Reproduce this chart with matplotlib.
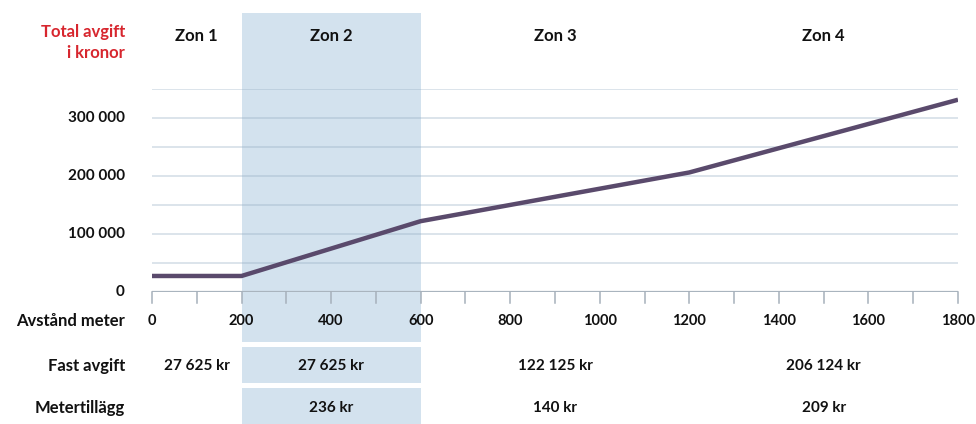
import matplotlib
matplotlib.use('Agg')
import matplotlib.pyplot as plt
import matplotlib.transforms as mtransforms
import numpy as np

plt.rcParams['font.family'] = ['Lato', 'DejaVu Sans']

# avgiftskurva (meter, kronor)
distance_m = [0, 200, 600, 1200, 1800]
total_fee = [27625, 27625, 122125, 206124, 331524]

zone_names = ['Zon 1', 'Zon 2', 'Zon 3', 'Zon 4']
zone_edges = [0, 200, 600, 1200, 1800]
fixed_fee = ['27 625 kr', '27 625 kr', '122 125 kr', '206 124 kr']
meter_fee = ['', '236 kr', '140 kr', '209 kr']

y_ticks = [0, 100000, 200000, 300000]
y_labels = ['0', '100 000', '200 000', '300 000']
x_ticks = [0, 200, 400, 600, 800, 1000, 1200, 1400, 1600, 1800]

W, H = 976, 424
fig = plt.figure(figsize=(W / 100, H / 100), dpi=100)

x0, x1 = 152, 958      # pixel for 0 and 1800 m
yb, yt = 292, 89       # pixel for 0 and 350 000 kr
ax = fig.add_axes([x0 / W, 1 - yb / H, (x1 - x0) / W, (yb - yt) / H])
ax.set_xlim(0, 1800)
ax.set_ylim(0, 350000)
ax.axis('off')

# x in data, y in figure pixels (from top)
tr = mtransforms.blended_transform_factory(ax.transData, fig.transFigure)
tr_y = mtransforms.blended_transform_factory(fig.transFigure, ax.transData)
def fy(px):
    return 1 - px / H

shade = '#d3e2ee'
for top, bot in [(13, 342), (347, 383), (388, 426)]:
    ax.fill_between([200, 600], fy(bot), fy(top), color=shade, lw=0,
                    transform=tr, clip_on=False, zorder=0)

# stödlinjer
for v in range(50000, 350001, 50000):
    ax.axhline(v, color='#8fa9bf', alpha=0.4, lw=1.1, zorder=1)
ax.axhline(0, color='#a9b4be', lw=1.6, zorder=1)

# skalstreck var 100 m
for t in range(0, 1801, 100):
    ax.plot([t, t], [fy(292), fy(303)], color='#a6b0ba', lw=1.1,
            transform=tr, clip_on=False, zorder=1)

ax.plot(distance_m, total_fee, color='#5a4a6c', lw=3.2,
        solid_capstyle='butt', zorder=3)

bold = dict(fontweight='bold', color='#111111')
lab_x = 125 / W
for v, s in zip(y_ticks, y_labels):
    ax.text(lab_x, v, s, ha='right', va='center', fontsize=11,
            transform=tr_y, **bold)
fig.text(lab_x, fy(32), 'Total avgift', ha='right', va='center',
         fontsize=12, fontweight='bold', color='#d7262e')
fig.text(lab_x, fy(53), 'i kronor', ha='right', va='center',
         fontsize=12, fontweight='bold', color='#d7262e')

fig.text(lab_x, fy(321), 'Avstånd meter', ha='right', va='center', fontsize=12, **bold)
fig.text(lab_x, fy(366), 'Fast avgift', ha='right', va='center', fontsize=12, **bold)
fig.text(lab_x, fy(408), 'Metertillägg', ha='right', va='center', fontsize=12, **bold)

for t in x_ticks:
    ax.text(t, fy(321), str(t), ha='center', va='center', fontsize=10.5,
            transform=tr, **bold)

for i, name in enumerate(zone_names):
    mid = (zone_edges[i] + zone_edges[i + 1]) / 2
    ax.text(mid, fy(36), name, ha='center', va='center', fontsize=12,
            transform=tr, **bold)
    ax.text(mid, fy(366), fixed_fee[i], ha='center', va='center', fontsize=11,
            transform=tr, **bold)
    if meter_fee[i]:
        ax.text(mid, fy(408), meter_fee[i], ha='center', va='center', fontsize=11,
                transform=tr, **bold)

fig.savefig('out.png', dpi=100, facecolor='white')
